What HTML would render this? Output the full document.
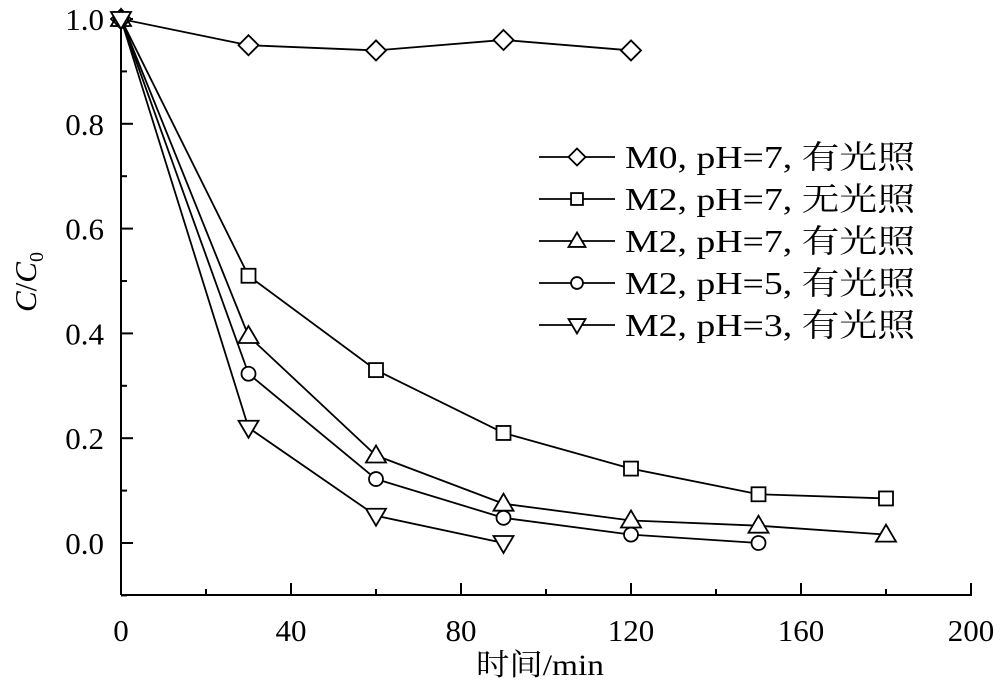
<!DOCTYPE html>
<html><head><meta charset="utf-8"><style>
html,body{margin:0;padding:0;background:#fff}
svg text{font-family:"Liberation Serif","Noto Serif CJK SC",serif;fill:#000}
</style></head><body>
<svg id="s" width="1000" height="695" xmlns="http://www.w3.org/2000/svg">
<g stroke="#000" stroke-width="2" fill="none">
<line x1="121" y1="595" x2="972" y2="595"/>
<line x1="121" y1="595" x2="121" y2="17"/>
</g>
<g id="ticks" stroke="#000" stroke-width="2"></g>
<g id="lab" font-size="31"></g>
<text x="540" y="675" font-size="30" text-anchor="middle" textLength="128" lengthAdjust="spacingAndGlyphs">时间/min</text>
<text transform="translate(36,282) rotate(-90)" font-size="31" text-anchor="middle"><tspan font-style="italic">C</tspan>/<tspan font-style="italic">C</tspan><tspan font-size="20" dy="7">0</tspan></text>
<g id="data" stroke="#000" stroke-width="1.8" fill="#fff"></g>
<g id="leg" font-size="32"></g>
</svg>
<script>
const X=v=>121+v*4.25, Y=v=>543-v*524;
const NS="http://www.w3.org/2000/svg";
function el(p,t,a,txt){const e=document.createElementNS(NS,t);for(const k in a)e.setAttribute(k,a[k]);if(txt!=null)e.textContent=txt;(typeof p=='string'?document.getElementById(p):p).appendChild(e);return e;}
for(let v=0;v<=200;v+=20){const x=X(v);el('ticks','line',{x1:x,y1:595,x2:x,y2:v%40==0?583:589});if(v%40==0)el('lab','text',{x:x,y:641,'text-anchor':'middle'},String(v));}
for(let i=-1;i<=10;i++){const v=i/10,y=Y(v);el('ticks','line',{x1:121,y1:y,x2:i%2==0?133:127,y2:y});if(i>=0&&i%2==0)el('lab','text',{x:104,y:y+11,'text-anchor':'end'},v.toFixed(1));}
function mk(g,type,x,y,s){s=s||1;
 if(type=='d')el(g,'polygon',{points:`${x},${y-10*s} ${x+10*s},${y} ${x},${y+10*s} ${x-10*s},${y}`});
 if(type=='s')el(g,'rect',{x:x-7*s,y:y-7*s,width:14*s,height:14*s});
 if(type=='t')el(g,'polygon',{points:`${x},${y-10*s} ${x+10*s},${y+7*s} ${x-10*s},${y+7*s}`});
 if(type=='c')el(g,'circle',{cx:x,cy:y,r:7*s});
 if(type=='v')el(g,'polygon',{points:`${x-10*s},${y-7*s} ${x+10*s},${y-7*s} ${x},${y+10*s}`});
}
const S=[
['d',[1,.95,.94,.96,.94],'M0, pH=7, 有光照'],
['s',[1,.51,.33,.21,.142,.093,.085],'M2, pH=7, 无光照'],
['t',[1,.395,.167,.075,.043,.033,.016],'M2, pH=7, 有光照'],
['c',[1,.323,.122,.048,.016,0],'M2, pH=5, 有光照'],
['v',[1,.22,.052,0],'M2, pH=3, 有光照']];
S.forEach(([t,d])=>{el('data','polyline',{points:d.map((v,i)=>X(i*30)+','+Y(v)).join(' '),fill:'none'});});
S.forEach(([t,d])=>{d.forEach((v,i)=>mk('data',t,X(i*30),Y(v)));});
S.forEach(([t,d,n],i)=>{const y=157+i*42;el('data','line',{x1:539,y1:y,x2:615,y2:y});mk('data',t,577,y,0.85);el('leg','text',{x:625,y:y+11,textLength:290,lengthAdjust:'spacingAndGlyphs'},n);});
</script>
</body></html>
